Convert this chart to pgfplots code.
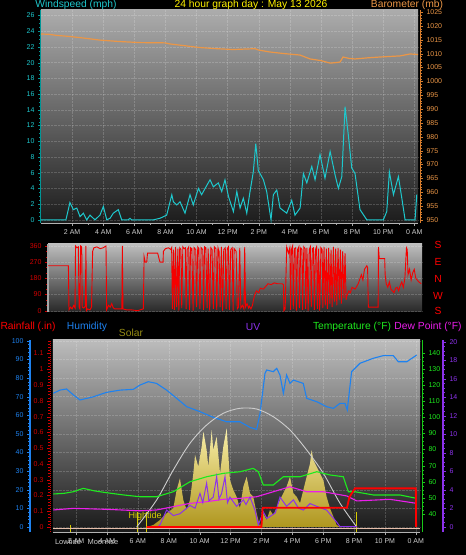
\documentclass[border=0pt]{standalone}
\usepackage{pgfplots}
\pgfplotsset{compat=1.18}
\usepackage{fontspec}
\setmainfont{Liberation Sans}
\definecolor{windc}{RGB}{30,200,205}
\definecolor{windtick}{RGB}{0,150,150}
\definecolor{baroc}{RGB}{235,150,70}
\definecolor{barotick}{RGB}{215,125,45}
\definecolor{dirc}{RGB}{245,0,0}
\definecolor{rainc}{RGB}{255,0,0}
\definecolor{raintick}{RGB}{210,0,0}
\definecolor{humc}{RGB}{30,130,240}
\definecolor{solarlab}{RGB}{150,140,20}
\definecolor{uvc}{RGB}{140,50,235}
\definecolor{tempc}{RGB}{30,235,30}
\definecolor{dewc}{RGB}{235,30,235}
\definecolor{timec}{RGB}{205,205,205}
\definecolor{suncurve}{RGB}{205,205,205}
\definecolor{solartop}{RGB}{250,240,170}
\definecolor{solarbot}{RGB}{175,150,30}
\definecolor{tidec}{RGB}{215,205,0}
\definecolor{peach}{RGB}{230,190,170}
\newcommand\tickfont{\fontsize{7}{8}\selectfont}
\newcommand\titlefont{\fontsize{10.3}{12}\selectfont}
\pgfplotsset{
  base/.style={scale only axis, anchor=south west, clip=true,
    /pgf/number format/assume math mode=true, /pgf/number format/1000 sep={},
    tick align=outside, major tick length=3pt, minor tick length=1.6pt,
    axis line style={-}, tick label style={font=\tickfont}},
}
\begin{document}
\begin{tikzpicture}[x=1pt,y=1pt]
\fill[black] (0,0) rectangle (466,555);
\useasboundingbox (0,0) rectangle (466,555);

% ================= TOP PANEL: windspeed =================
\begin{axis}[base, at={(41pt,332pt)}, width=377pt, height=213pt,
  xmin=0, xmax=24.24, ymin=-0.4, ymax=26.7,
  axis background/.style={shade, top color={rgb,255:red,172;green,172;blue,172}, middle color={rgb,255:red,100;green,100;blue,100}, bottom color={rgb,255:red,28;green,28;blue,28}},
  axis x line*=bottom, axis y line*=left,
  x axis line style={draw=gray!60}, y axis line style={draw=windtick, line width=1pt},
  xtick={2,4,...,24}, xticklabels={2 AM,4 AM,6 AM,8 AM,10 AM,12 PM,2 PM,4 PM,6 PM,8 PM,10 PM,0 AM},
  minor x tick num=1, x tick style={draw=gray!70},
  x tick label style={text=timec},
  ytick={0,2,...,26}, minor y tick num=3, y tick style={draw=windtick},
  y tick label style={text=windc},
  grid=major, grid style={densely dotted, white, opacity=0.18}]
\addplot[windc, line width=1pt] coordinates {
(0.0,0) (1.60,0) (1.65,0.4) (1.86,2.2) (2.08,1.3) (2.30,1.5) (2.51,0.4) (2.72,0.85) (2.94,0) (3.15,0.6) (3.47,0) (3.79,0.6) (4.01,1.7) (4.23,0) (4.44,0.2) (4.65,0.85) (4.97,1.3) (5.19,0) (5.61,0) (5.72,0.2) (5.83,0) (7.22,0) (7.65,0.2) (8.08,0.6) (8.41,3.2) (8.51,2.3) (8.73,1.9) (8.94,2.3) (9.26,0.85) (9.58,3.2) (9.79,1.9) (10.12,4.0) (10.33,3.2) (10.55,4.0) (10.87,5.1) (11.08,4.2) (11.40,4.7) (11.62,3.6) (11.83,5.1) (12.05,3.0) (12.37,1.05) (12.59,3.6) (12.80,1.5) (13.01,2.75) (13.23,0.85) (13.44,3.6) (13.65,6.1) (13.81,9.7) (13.97,6.3) (14.30,5.1) (14.51,3.6) (14.79,0) (14.94,3.2) (15.16,3.8) (15.37,1.5) (15.80,0.85) (16.12,2.5) (16.33,0.6) (16.66,1.5) (16.87,5.9) (17.09,4.7) (17.41,6.8) (17.62,5.1) (17.94,8.3) (18.26,5.3) (18.59,8.7) (18.91,5.7) (19.12,4.0) (19.34,5.5) (19.55,14.4) (19.76,10.8) (19.98,6.6) (20.19,5.9) (20.51,1.3) (20.95,0) (22.01,0) (22.23,1.05) (22.40,6.1) (22.66,3.2) (22.98,5.5) (23.20,2.75) (23.41,0) (24.05,0) (24.16,3.2)};
\end{axis}

% ================= TOP PANEL: barometer =================
\begin{axis}[base, at={(41pt,332pt)}, width=377pt, height=213pt,
  xmin=0, xmax=24.24, ymin=948.92, ymax=1025.76,
  axis x line=none, axis y line*=right, axis y line shift=2pt,
  y axis line style={draw=barotick, line width=1pt},
  ytick={950,955,...,1025}, minor y tick num=4, y tick style={draw=barotick},
  y tick label style={text=baroc}]
\addplot[baroc, line width=1.2pt] coordinates {
(0.0,1017.1) (0.5,1017.0) (1.0,1016.6) (1.86,1016.2) (2.8,1015.6) (3.79,1014.9) (5.0,1014.4) (6.37,1014.0) (7.97,1013.9) (8.30,1013.5) (9.2,1012.9) (10.23,1012.2) (11.3,1011.8) (12.35,1011.5) (13.76,1011.8) (14.0,1011.3) (14.73,1010.6) (15.7,1010.0) (16.66,1009.5) (17.30,1008.1) (18.0,1007.5) (18.59,1006.6) (19.0,1006.8) (19.23,1007.0) (19.42,1008.8) (19.8,1008.3) (20.19,1008.1) (21.0,1008.5) (21.80,1008.8) (23.09,1009.2) (23.73,1009.9) (24.24,1009.7)};
\end{axis}

% ================= MIDDLE PANEL: wind direction =================
\begin{axis}[base, at={(48pt,243pt)}, width=374pt, height=68pt,
  xmin=0.45, xmax=24.5, ymin=-7.2, ymax=371,
  axis background/.style={shade, top color={rgb,255:red,190;green,190;blue,190}, middle color={rgb,255:red,115;green,115;blue,115}, bottom color={rgb,255:red,40;green,40;blue,40}},
  axis x line=none, axis y line*=left,
  y axis line style={draw=gray!70, line width=1.5pt},
  ytick={0,90,180,270,360}, minor y tick num=2, y tick style={draw=raintick},
  y tick label style={text=raintick},
  grid=major, grid style={densely dotted, white, opacity=0.18}]
\addplot[dirc, line width=0.9pt] coordinates {
(0.45,250) (1.76,250) (1.80,5) (1.90,20) (2.00,10) (2.10,30) (2.19,15) (2.22,360) (2.30,350) (2.40,355) (2.45,20) (2.50,10) (2.55,360) (2.62,355) (2.65,20) (2.75,15) (2.85,25) (2.89,360) (2.92,0) (3.00,10) (3.15,5) (3.25,20) (3.32,330) (3.40,350) (3.60,355) (3.80,345) (4.00,350) (4.18,360) (4.22,5) (4.35,30) (4.45,20) (4.55,40) (4.65,15) (4.76,10) (5.00,10) (5.20,10) (5.23,360) (5.27,10) (5.5,5) (5.8,5) (6.2,0) (6.58,10) (6.63,300) (6.70,270) (6.80,270) (6.85,320) (7.12,320) (7.50,320) (7.65,270) (7.85,270) (7.87,330) (8.0,345) (8.2,350) (8.35,340)
(8.40,350) (8.45,10) (8.52,340) (8.58,5) (8.65,355) (8.72,20) (8.80,345) (8.86,0) (8.92,350) (9.00,340) (9.05,15) (9.12,355) (9.20,345) (9.28,350) (9.33,10) (9.40,340) (9.50,355) (9.55,5) (9.62,350) (9.70,345) (9.78,0) (9.85,350) (9.95,340) (10.00,20) (10.08,355) (10.15,345) (10.22,10) (10.30,350) (10.40,340) (10.45,5) (10.52,355) (10.60,350) (10.68,15) (10.75,345) (10.85,0) (10.92,350) (11.00,340) (11.08,10) (11.15,355) (11.25,345) (11.30,5) (11.38,350) (11.45,330) (11.52,20) (11.60,355) (11.68,0) (11.75,340) (11.85,350) (11.90,10) (11.98,345) (12.05,355) (12.12,5) (12.20,340) (12.30,350) (12.35,0) (12.42,345) (12.55,330) (12.62,10) (12.70,20) (12.78,350) (12.85,15) (12.95,30) (13.05,10) (13.10,355) (13.15,20) (13.25,40) (13.35,15) (13.40,25) (13.50,10) (13.60,30) (13.66,60) (13.75,90) (13.85,110) (14.00,100) (14.10,125) (14.30,120) (14.45,135) (14.60,150) (14.80,145) (15.00,155) (15.20,150) (15.50,150) (15.59,145) (15.62,0) (15.70,10)
(15.80,355) (15.85,340) (15.92,320) (16.00,350) (16.05,5) (16.10,340) (16.18,360) (16.22,10) (16.30,345) (16.38,350) (16.42,0) (16.50,340) (16.58,355) (16.62,15) (16.70,350) (16.78,340) (16.82,5) (16.90,355) (16.98,345) (17.02,10) (17.10,350) (17.18,0) (17.25,340) (17.32,355) (17.38,20) (17.45,345) (17.52,350) (17.58,5) (17.65,340) (17.72,355) (17.78,10) (17.85,345) (17.92,0) (18.00,350) (18.08,340) (18.12,15) (18.20,355) (18.28,30) (18.35,345) (18.42,10) (18.50,350) (18.58,40) (18.65,340) (18.72,20) (18.80,355) (18.88,50) (18.95,345) (19.02,30) (19.10,350) (19.18,60) (19.25,340) (19.32,40) (19.40,330) (19.48,70) (19.55,320) (19.62,60)
(19.66,80) (19.8,110) (19.9,100) (20.0,130) (20.2,120) (20.4,150) (20.6,200) (20.7,170) (20.8,230) (20.95,250) (21.0,240) (21.05,20) (21.2,20) (21.5,20) (21.68,20) (21.70,355) (21.75,290) (22.10,290) (22.13,200) (22.2,150) (22.3,130) (22.4,160) (22.5,120) (22.6,110) (22.7,100) (22.8,125) (22.9,130) (23.0,110) (23.1,140) (23.2,160) (23.3,130) (23.4,180) (23.5,350) (23.55,340) (23.6,200) (23.7,230) (23.8,170) (23.9,210) (24.0,230) (24.1,180) (24.3,160) (24.45,150)};
\end{axis}

% ================= BOTTOM PANEL: humidity (background + x labels) =================
\begin{axis}[base, at={(53pt,23.3pt)}, width=367pt, height=191.7pt,
  xmin=0.5, xmax=24.27, ymin=-2.5, ymax=100.4,
  axis background/.style={shade, top color={rgb,255:red,188;green,188;blue,188}, middle color={rgb,255:red,72;green,72;blue,72}, bottom color={rgb,255:red,25;green,25;blue,25}},
  axis x line*=bottom, axis y line*=left, axis y line shift=23pt,
  x axis line style={draw=gray!60}, y axis line style={draw=humc, line width=1.5pt},
  xtick={2,4,...,24}, xticklabels={2 AM,4 AM,6 AM,8 AM,10 AM,12 PM,2 PM,4 PM,6 PM,8 PM,10 PM,0 AM},
  minor x tick num=1, x tick style={draw=gray!70},
  x tick label style={text=timec},
  ytick={0,10,...,100}, minor y tick num=4, y tick style={draw=humc},
  y tick label style={text=humc},
  grid=major, grid style={densely dotted, white, opacity=0.18}]
\addplot[humc, line width=1.1pt] coordinates {
(0.52,71.8) (0.95,73.5) (1.38,74.1) (1.82,70.9) (2.25,68.2) (3.11,69.9) (3.97,72.3) (4.84,73.5) (5.70,73.9) (6.13,76.2) (6.67,78.0) (7.21,77.1) (7.86,73.5) (8.51,69.1) (9.16,64.6) (10.02,61.9) (10.88,58.9) (11.75,56.5) (12.61,56.5) (13.26,53.5) (13.69,52.4) (13.91,61.0) (14.23,82.5) (14.34,84.3) (14.77,83.4) (14.99,85.2) (15.20,81.6) (15.42,71.8) (15.63,81.6) (15.85,77.1) (16.07,78.9) (16.71,77.1) (16.93,69.1) (17.58,67.3) (18.22,64.6) (18.66,63.7) (19.09,66.4) (19.41,66.4) (19.56,62.8) (19.84,83.4) (20.38,87.9) (21.25,90.6) (21.89,92.0) (22.54,92.0) (22.87,88.7) (23.41,88.7) (24.05,92.3)};
% tide / moon markers
\addplot[tidec, line width=0.8pt] coordinates {(1.6,1.1) (1.6,-2.5)};
\addplot[tidec, line width=0.8pt] coordinates {(5.94,8.2) (5.94,-2.5)};
\addplot[tidec, line width=0.8pt] coordinates {(6.52,8.2) (6.52,-2.5)};
\addplot[tidec, line width=0.8pt] coordinates {(20.12,8.2) (20.12,-2.5)};
\node[text=tidec, font=\fontsize{9}{10}\selectfont] at (axis cs:6.46,5.9) {Hightide};
\end{axis}

% ================= BOTTOM PANEL: solar =================
\begin{axis}[base, at={(53pt,23.3pt)}, width=367pt, height=191.7pt,
  xmin=0.5, xmax=24.27, ymin=-39.6, ymax=1575.4, hide axis]
\addplot[draw=none, top color=solartop, bottom color=solarbot] coordinates {
(6.57,0) (6.998,17) (7.43,59) (7.86,115) (8.29,158) (8.51,312) (8.72,410) (8.94,227) (9.16,143) (9.37,227) (9.59,452) (9.70,607) (9.91,508) (10.13,677) (10.24,803) (10.34,733) (10.45,649) (10.56,508) (10.78,817) (10.88,649) (11.10,761) (11.32,452) (11.53,677) (11.75,832) (11.96,396) (12.18,312) (12.39,255) (12.61,158) (12.83,340) (13.04,424) (13.26,284) (13.47,255) (13.69,115) (13.91,3) (14.12,115) (14.34,59) (14.55,143) (14.77,101) (15.20,227) (15.63,340) (15.85,424) (16.07,284) (16.28,255) (16.50,200) (16.93,424) (17.15,537) (17.25,649) (17.36,564) (17.58,508) (17.79,452) (18.01,396) (18.22,255) (18.44,158) (18.66,87) (18.87,17) (19.09,0)} \closedcycle;
\addplot[suncurve, line width=0.9pt, smooth] coordinates {
(5.92,0) (7.21,227) (8.29,480) (9.37,705) (10.45,859) (11.53,958) (12.61,1000) (13.69,994) (14.77,929) (15.85,817) (16.93,649) (18.01,452) (19.09,200) (20.17,0)};
\end{axis}

% ================= BOTTOM PANEL: temperature & dew point =================
\begin{axis}[base, at={(53pt,23.3pt)}, width=367pt, height=191.7pt,
  xmin=0.5, xmax=24.27, ymin=29.03, ymax=147.87,
  axis x line=none, axis y line*=right, axis y line shift=2pt,
  y axis line style={draw=tempc!85!black, line width=1pt},
  ytick={40,50,...,140}, minor y tick num=3, y tick style={draw=tempc!85!black},
  y tick label style={text=tempc}]
\addplot[tempc, line width=1.1pt] coordinates {
(0.52,52.4) (1.2,52.8) (1.82,53.8) (2.46,55.9) (3.2,54.3) (3.97,53.2) (5.0,51.9) (6.13,50.7) (7.21,50.7) (8.29,53.8) (9.37,60.0) (10.45,63.1) (11.53,65.2) (12.61,66.2) (13.47,68.3) (13.80,66.2) (14.12,58.0) (14.77,58.0) (15.42,63.1) (16.50,63.1) (17.58,66.2) (18.44,64.2) (19.30,63.1) (19.63,53.8) (20.06,53.8) (21.25,51.8) (22.97,51.8) (24.05,49.7)};
\addplot[dewc, line width=1.1pt] coordinates {
(0.52,42.5) (1.82,43.5) (3.97,42.9) (6.13,42.0) (7.21,42.5) (9.37,46.6) (10.45,47.6) (11.53,49.1) (12.61,49.7) (13.69,50.7) (14.77,53.8) (15.85,56.9) (16.93,53.8) (18.01,53.8) (19.52,51.2) (20.17,48.1) (22.33,49.1) (24.05,46.6)};
\end{axis}

% ================= BOTTOM PANEL: UV =================
\begin{axis}[base, at={(53pt,23.3pt)}, width=367pt, height=191.7pt,
  xmin=0.5, xmax=24.27, ymin=-0.54, ymax=20.18,
  axis x line=none, axis y line*=right, axis y line shift=23pt,
  y axis line style={draw=uvc, line width=1.5pt},
  ytick={0,2,...,20}, minor y tick num=3, y tick style={draw=uvc},
  y tick label style={text=uvc}]
\addplot[uvc, line width=1pt] coordinates {
(7.3,0) (7.43,0.2) (7.86,1.8) (8.3,1.2) (8.72,1.4) (9.37,2.3) (9.7,2.0) (10.02,3.6) (10.2,2.6) (10.45,4.7) (10.6,2.8) (10.88,3.2) (11.10,5.4) (11.25,3.0) (11.42,3.6) (11.64,5.4) (11.8,2.6) (11.96,3.2) (12.39,2.2) (12.83,2.9) (13.0,2.4) (13.26,3.2) (13.58,1.8) (13.80,0.2) (14.12,1.6) (14.35,0.9) (14.55,1.1) (14.9,1.5) (15.20,3.2) (15.63,2.2) (16.07,2.9) (16.4,2.0) (16.71,1.8) (17.15,2.5) (17.58,2.2) (18.22,1.8) (18.87,0.5) (19.09,0) (20.2,0)};
\end{axis}

% ================= BOTTOM PANEL: rainfall =================
\begin{axis}[base, at={(53pt,23.3pt)}, width=367pt, height=191.7pt,
  xmin=0.5, xmax=24.27, ymin=-0.0298, ymax=1.186,
  axis x line=none, axis y line*=left, axis y line shift=3pt,
  y axis line style={draw=raintick, line width=1pt, densely dotted},
  ytick={0,0.1,0.2,0.3,0.4,0.5,0.6,0.7,0.8,0.9,1,1.1,1.2}, minor y tick num=4, y tick style={draw=raintick},
  y tick label style={text=raintick}]
\addplot[peach, line width=1pt] coordinates {(0.5,-0.012) (24.27,-0.012)};
\addplot[rainc, line width=1.8pt] coordinates {
(6.57,0) (14.0,0) (14.08,0.122) (19.54,0.122) (19.7,0.19) (20.06,0.245) (24.0,0.245) (24.02,0)};
\end{axis}

% ================= texts =================
\node[text=windc, font=\titlefont] at (76,550) {Windspeed (mph)};
\node[text=yellow, font=\titlefont] at (251,550) {24 hour graph day : May 13 2026};
\node[text=baroc, font=\titlefont] at (407,550.5) {Barometer (mb)};
\foreach \l/\yy in {S/310,E/293,N/276,W/259,S/244}{
  \node[text=red, font=\titlefont] at (438,\yy) {\l};
}
\node[text=rainc, font=\titlefont] at (28,228) {Rainfall (.in)};
\node[text=humc, font=\titlefont] at (87,228) {Humidity};
\node[text=solarlab, font=\titlefont] at (131,222) {Solar};
\node[text=uvc, font=\titlefont] at (253,228) {UV};
\node[text=tempc, font=\titlefont] at (352,228) {Temperature (°F)};
\node[text=dewc, font=\titlefont] at (428,228) {Dew Point (°F)};
\node[text=timec, font=\fontsize{7.5}{8}\selectfont] at (68,13) {Lowtide};
\node[text=timec, font=\fontsize{7.5}{8}\selectfont] at (103,13) {Moonrise};
\end{tikzpicture}
\end{document}
